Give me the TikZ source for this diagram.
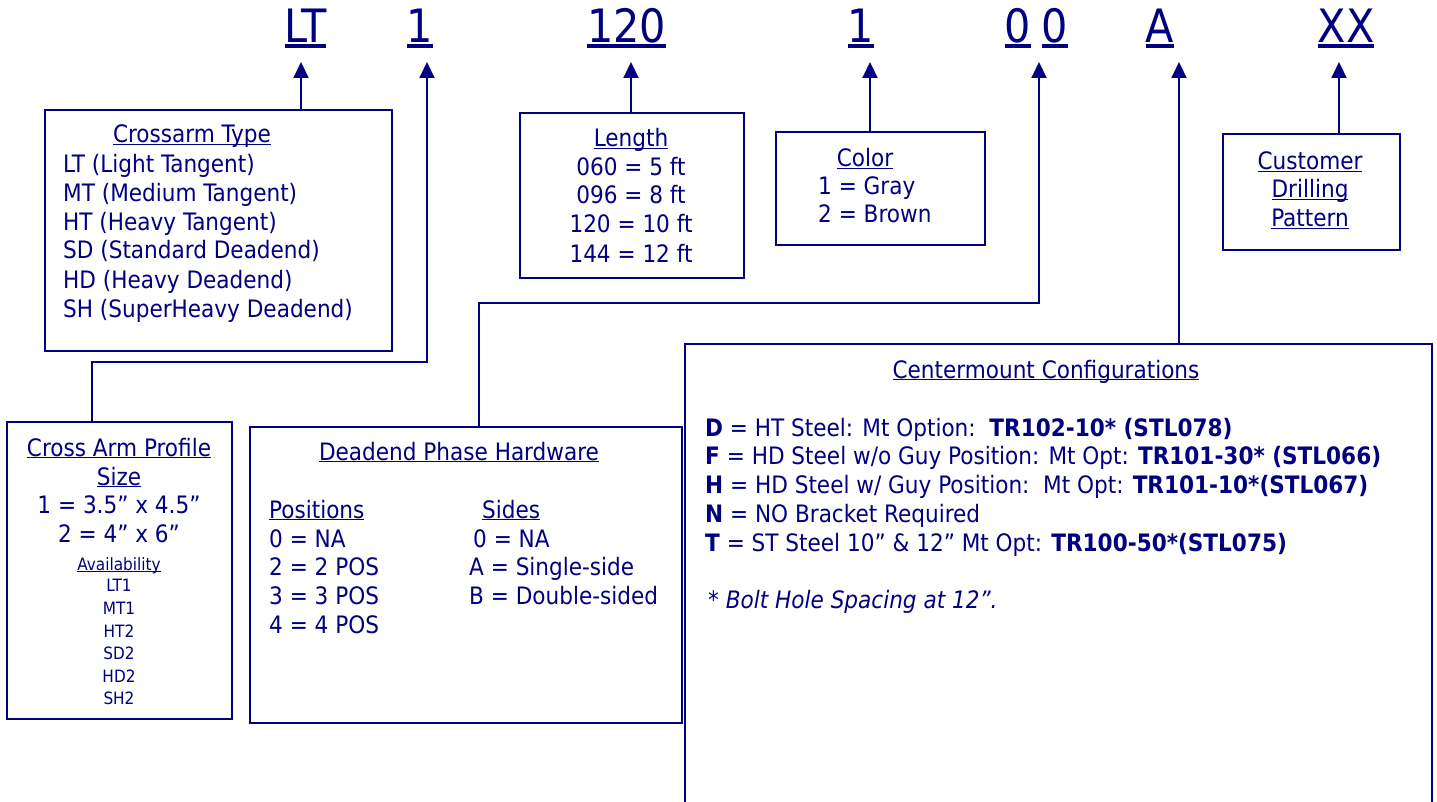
\documentclass[tikz,border=0pt]{standalone}
\usepackage{fontspec}
\setmainfont{DejaVu Sans Condensed}
\usetikzlibrary{arrows.meta}
\definecolor{navy}{RGB}{0,0,128}
\newcommand\ulx[1]{\setbox0\hbox{#1}\rlap{\rule[-0.1em]{\wd0}{0.07em}}\box0}
\tikzset{
  bx/.style={draw=navy, line width=2pt, inner sep=0pt, anchor=north west},
  t/.style={text=navy, inner sep=0pt, anchor=base west, font=\fontsize{24}{28}\selectfont},
  tc/.style={t, anchor=base},
  ts/.style={tc, font=\fontsize{17}{20}\selectfont},
  code/.style={text=navy, inner sep=0pt, anchor=base, font=\fontsize{46}{50}\selectfont},
  arr/.style={draw=navy, line width=2pt, -{Triangle[width=15pt,length=16pt]}},
  ln/.style={draw=navy, line width=2pt}
}
\begin{document}
\begin{tikzpicture}[x=1pt,y=-1pt]
\useasboundingbox (0,0) rectangle (1437,802);
\clip (0,0) rectangle (1437,802);
% codes
\node[code] (cLT) at (305.5,43) {\ulx{LT}};
\node[code] (c1) at (420,43) {\ulx{1}};
\node[code] (c120) at (626.5,43) {\ulx{120}};
\node[code] (cC) at (861,43) {\ulx{1}};
\node[code] (c0a) at (1018,43) {\ulx{0}};
\node[code] (c0b) at (1055,43) {\ulx{0}};
\node[code] (cA) at (1160,43) {\ulx{A}};
\node[code] (cX) at (1346,43) {\ulx{XX}};
% arrow tips
\coordinate (aLT) at (301,62);
\coordinate (a1) at (427,62);
\coordinate (a120) at (631,62);
\coordinate (aC) at (870,62);
\coordinate (a00) at (1039,62);
\coordinate (aA) at (1179,62);
\coordinate (aX) at (1339,62);
\coordinate (k1) at (92,362);
\coordinate (k2) at (479,303);
% boxes
\node[bx, minimum width=347pt, minimum height=241pt] (ct) at (44,109) {};
\node[bx, minimum width=224pt, minimum height=165pt] (len) at (519,112) {};
\node[bx, minimum width=209pt, minimum height=113pt] (col) at (775,131) {};
\node[bx, minimum width=177pt, minimum height=116pt] (cu) at (1222,133) {};
\node[bx, minimum width=225pt, minimum height=297pt] (cap) at (6,421) {};
\node[bx, minimum width=432pt, minimum height=296pt] (dph) at (249,426) {};
\node[bx, minimum width=747pt, minimum height=500pt] (cm) at (684,343) {};
% connectors
\draw[arr] (ct.north -| aLT) -- (aLT);
\draw[arr] (cap.north -| k1) -- (k1) -| (a1);
\draw[arr] (len.north -| a120) -- (a120);
\draw[arr] (col.north -| aC) -- (aC);
\draw[arr] (dph.north -| k2) -- (k2) -| (a00);
\draw[arr] (cm.north -| aA) -- (aA);
\draw[arr] (cu.north -| aX) -- (aX);
% crossarm type
\node[tc] (ct0) at (192,143) {\ulx{Crossarm Type}};
\node[t] (ct1) at (63,173) {LT (Light Tangent)};
\node[t] (ct2) at (63,202) {MT (Medium Tangent)};
\node[t] (ct3) at (63,231) {HT (Heavy Tangent)};
\node[t] (ct4) at (63,259) {SD (Standard Deadend)};
\node[t] (ct5) at (63,288) {HD (Heavy Deadend)};
\node[t] (ct6) at (63,317) {SH (SuperHeavy Deadend)};
% length
\node[tc] (l0) at (631,147) {\ulx{Length}};
\node[tc] (l1) at (631,176) {060 = 5 ft};
\node[tc] (l2) at (631,204) {096 = 8 ft};
\node[tc] (l3) at (631,233) {120 = 10 ft};
\node[tc] (l4) at (631,262) {144 = 12 ft};
% color
\node[tc] (co0) at (865,167) {\ulx{Color}};
\node[t] (co1) at (818,195) {1 = Gray};
\node[t] (co2) at (818,223) {2 = Brown};
% customer
\node[tc] (cu1) at (1310,170) {\ulx{Customer}};
\node[tc] (cu2) at (1310,198) {\ulx{Drilling}};
\node[tc] (cu3) at (1310,227) {\ulx{Pattern}};
% cross arm profile
\node[tc] (p0) at (119,456) {\ulx{Cross Arm Profile}};
\node[tc] (p1) at (119,485) {\ulx{Size}};
\node[tc] (p2) at (119,513) {1 = 3.5” x 4.5”};
\node[tc] (p3) at (119,542) {2 = 4” x 6”};
\node[ts] (p4) at (119,570) {\ulx{Availability}};
\node[ts] (p5) at (119,591) {LT1};
\node[ts] (p6) at (119,614) {MT1};
\node[ts] (p7) at (119,637) {HT2};
\node[ts] (p8) at (119,659) {SD2};
\node[ts] (p9) at (119,682) {HD2};
\node[ts] (p10) at (119,704) {SH2};
% deadend
\node[tc] (d0) at (459,460) {\ulx{Deadend Phase Hardware}};
\node[t] (d1) at (269,518) {\ulx{Positions}};
\node[t] (d2) at (269,547) {0 = NA};
\node[t] (d3) at (269,575) {2 = 2 POS};
\node[t] (d4) at (269,604) {3 = 3 POS};
\node[t] (d5) at (269,633) {4 = 4 POS};
\node[t] (s1) at (482,518) {\ulx{Sides}};
\node[t] (s2) at (473,547) {0 = NA};
\node[t] (s3) at (469,575) {A = Single-side};
\node[t] (s4) at (469,604) {B = Double-sided};
% centermount
\node[tc] (m0) at (1046,378) {\ulx{Centermount Configurations}};
\node[t] (m1) at (705,436) {\textbf{D} = HT Steel: Mt Option:\ \ \textbf{TR102-10* (STL078)}};
\node[t] (m2) at (705,464) {\textbf{F} = HD Steel w/o Guy Position: Mt Opt: \textbf{TR101-30* (STL066)}};
\node[t] (m3) at (705,493) {\textbf{H} = HD Steel w/ Guy Position:\ \ Mt Opt: \textbf{TR101-10*(STL067)}};
\node[t] (m4) at (705,522) {\textbf{N} = NO Bracket Required};
\node[t] (m5) at (705,551) {\textbf{T} = ST Steel 10” \& 12” Mt Opt: \textbf{TR100-50*(STL075)}};
\node[t] (m6) at (708,608) {\itshape * Bolt Hole Spacing at 12”.};
\end{tikzpicture}
\end{document}
